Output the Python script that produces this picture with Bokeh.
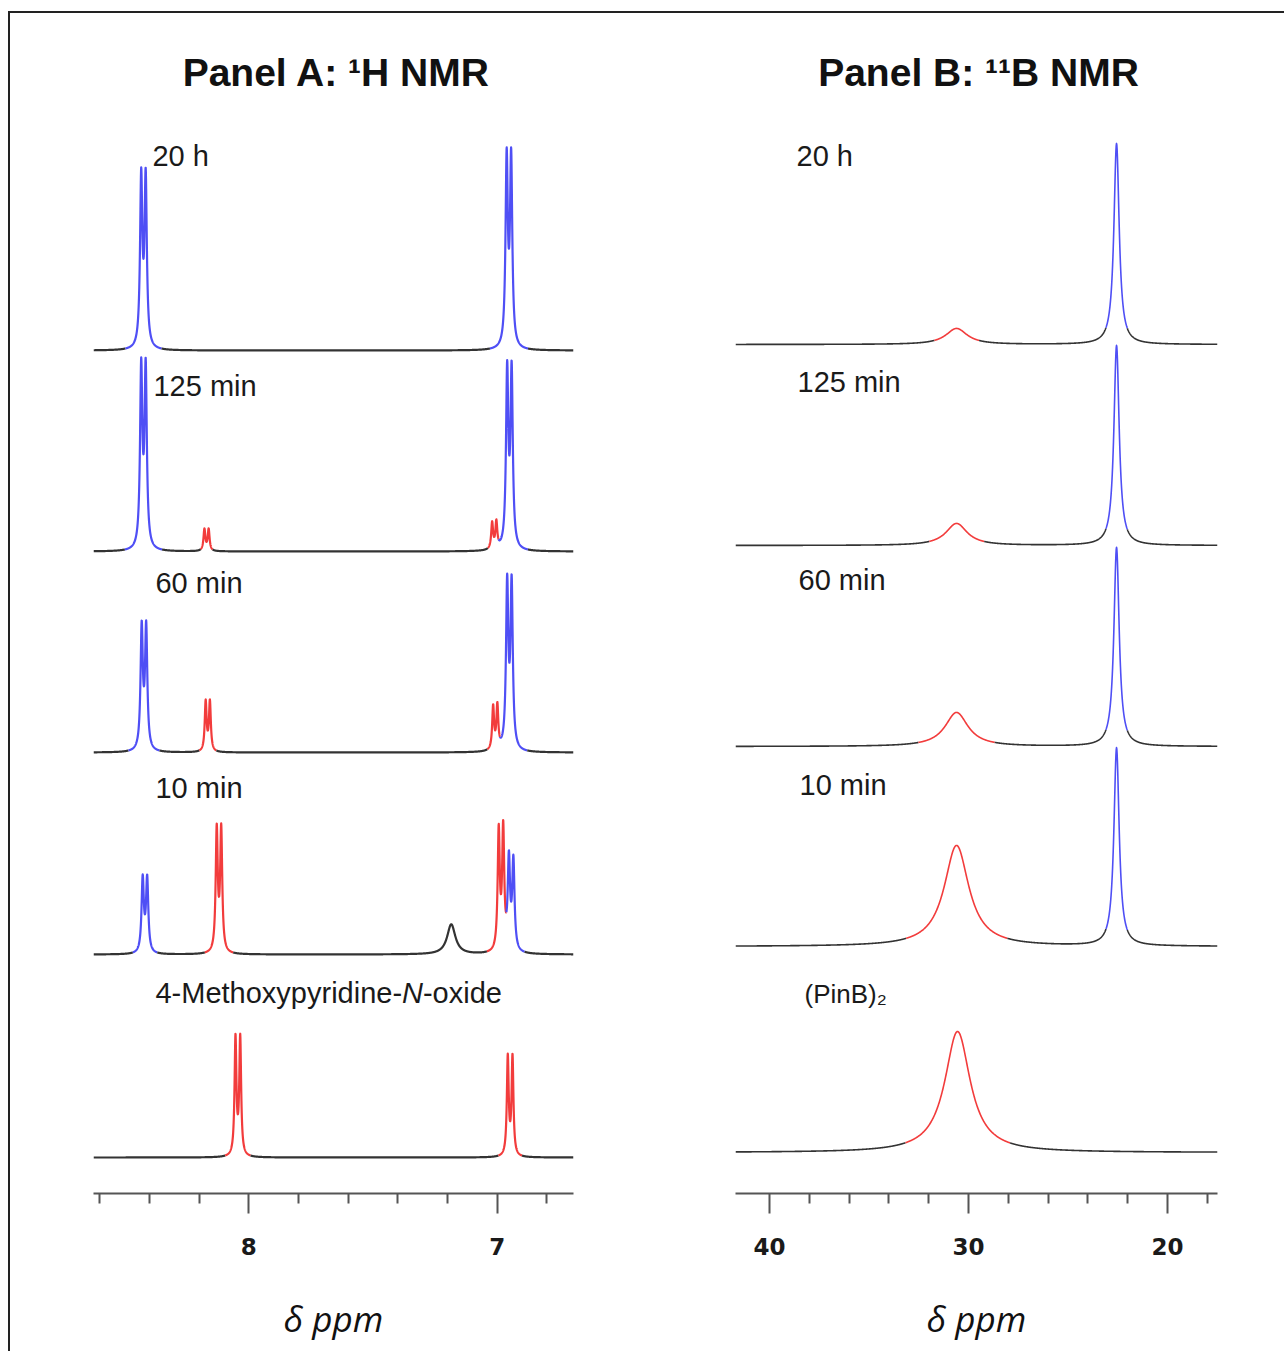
import numpy as np
from bokeh.plotting import figure
from bokeh.models import Range1d, LinearAxis, FixedTicker, ColumnDataSource, Row
from bokeh.core.properties import value
from bokeh.embed import file_html
from bokeh.resources import INLINE

# ------------------------------------------------------------------ data
# Panel A : 1H NMR  (trace 0 = top)
A_TRACES = ["20 h", "125 min", "60 min", "10 min", "4-Methoxypyridine-N-oxide"]
A_PEAK_TRACE = [0, 0, 1, 1, 1, 1, 2, 2, 2, 2, 3, 3, 3, 3, 3, 4, 4]
A_PEAK_PPM = [8.424, 6.953, 8.424, 8.170, 7.012, 6.951, 8.422, 8.165, 7.008,
              6.951, 8.418, 8.120, 7.185, 6.985, 6.944, 8.044, 6.948]
A_PEAK_HEIGHT = [183, 203, 194, 23, 28, 191, 132, 53, 46, 178, 80, 131, 30,
                 128, 97, 124, 104]
A_PEAK_FWHM = [0.011, 0.011, 0.011, 0.009, 0.009, 0.011, 0.011, 0.009, 0.009,
               0.011, 0.011, 0.010, 0.040, 0.010, 0.011, 0.009, 0.009]
A_PEAK_SPLIT = [0.018, 0.018, 0.018, 0.017, 0.017, 0.018, 0.018, 0.017, 0.017,
                0.018, 0.018, 0.018, 0.0, 0.018, 0.018, 0.019, 0.019]
A_PEAK_SPECIES = ["P", "P", "P", "S", "S", "P", "P", "S", "S", "P",
                  "P", "S", "O", "S", "P", "S", "S"]
A_MAJOR_TICKS = [7, 8]
A_MINOR_TICKS = [6.8, 7.2, 7.4, 7.6, 7.8, 8.2, 8.4, 8.6]

# Panel B : 11B NMR
B_TRACES = ["20 h", "125 min", "60 min", "10 min", "(PinB)\u2082"]
B_PEAK_TRACE = [0, 0, 1, 1, 2, 2, 3, 3, 4]
B_PEAK_PPM = [30.6, 22.56, 30.6, 22.56, 30.6, 22.56, 30.6, 22.56, 30.55]
B_PEAK_HEIGHT = [16, 201, 22, 200, 34, 199, 101, 198, 121]
B_PEAK_FWHM = [1.3, 0.32, 1.3, 0.32, 1.4, 0.32, 1.5, 0.32, 1.55]
B_PEAK_SPECIES = ["S", "P", "S", "P", "S", "P", "S", "P", "S"]
B_MAJOR_TICKS = [20, 30, 40]
B_MINOR_TICKS = [18, 22, 24, 26, 28, 32, 34, 36, 38]

TITLE_A = "Panel A: \u00b9H NMR"
TITLE_B = "Panel B: \u00b9\u00b9B NMR"
AXIS_LABEL = "\u03b4 ppm"

# ------------------------------------------------------------------ layout / style
BLUE = "#4f4ff5"
RED = "#f23c3c"
BLACK = "#333333"
COLORS = {"P": BLUE, "S": RED, "O": BLACK}
LABEL_FONT = "Liberation Sans"
FIG_H = 1338
FRAME_H = 1180
BOTTOM = FIG_H - FRAME_H

A_X = (8.625, 6.693)
B_X = (41.709, 17.487)
A_Y = (5, 5 + FRAME_H)      # data y: page_y = 1198 - y
B_Y = (0, FRAME_H)          # data y: page_y = 1193 - y
A_BASES = [848, 647, 446, 244, 41]
B_BASES = [849, 648, 447, 247, 41]
# label positions in page pixels (converted to data units below)
A_LABEL_PX = [(152, 155), (153, 385), (155, 582), (155, 787), (155, 992)]
B_LABEL_PX = [(795, 155), (796, 381), (797, 579), (798, 784), (803, 993)]


def a_px_to_ppm(px):
    return 8.0 + (248.3 - px) / 248.4


def b_px_to_ppm(px):
    return 30.0 + (967.0 - px) / 19.9


def lorentz(x, c, h, fwhm):
    g = fwhm / 2.0
    return h / (1.0 + ((x - c) / g) ** 2)


def profile(x, c, h, fwhm, split):
    if split > 0:
        g = fwhm / 2.0
        overlap = 1.0 / (1.0 + (split / g) ** 2)
        hl = h / (1.0 + overlap)
        return lorentz(x, c - split / 2, hl, fwhm) + lorentz(x, c + split / 2, hl, fwhm)
    return lorentz(x, c, h, fwhm)


def segments(x, base, comps, species, thresholds):
    stack = np.vstack(comps)
    total = base + stack.sum(axis=0)
    dom = stack.argmax(axis=0)
    domval = stack.max(axis=0)
    thr = np.array(thresholds)[dom]
    labels = np.where(domval > thr, np.array(species)[dom], "O")
    xs, ys, cs = [], [], []
    start = 0
    n = len(x)
    for i in range(1, n + 1):
        if i == n or labels[i] != labels[start]:
            end = min(i + 1, n)
            xs.append(list(x[start:end]))
            ys.append(list(total[start:end]))
            cs.append(COLORS[labels[start]])
            start = i
    return xs, ys, cs


def make_fig(width, frame_left, frame_right, xr, yr):
    p = figure(width=width, height=FIG_H, x_range=Range1d(*xr),
               y_range=Range1d(*yr), x_axis_type=None, y_axis_type=None,
               toolbar_location=None, output_backend="svg",
               min_border_left=frame_left, min_border_right=frame_right,
               min_border_top=0, min_border_bottom=BOTTOM,
               outline_line_color=None, background_fill_color="white",
               border_fill_color="white")
    return p


def add_axis(p, major, minor, label_standoff):
    ax = LinearAxis(ticker=FixedTicker(ticks=major, minor_ticks=minor),
                    axis_label=AXIS_LABEL,
                    axis_label_text_font="Open Sans",
                    axis_label_text_font_style="italic",
                    axis_label_text_font_size="35px",
                    axis_label_text_line_height=1.0,
                    axis_label_text_color="#111111",
                    axis_label_standoff=label_standoff,
                    major_label_text_font="DejaVu Sans",
                    major_label_text_font_style="bold",
                    major_label_text_font_size="23px",
                    major_label_text_color="#1a1a1a",
                    major_label_standoff=24,
                    major_tick_out=20, major_tick_in=0,
                    minor_tick_out=10, minor_tick_in=0,
                    axis_line_color="#555555", axis_line_width=2,
                    major_tick_line_color="#555555", major_tick_line_width=2,
                    minor_tick_line_color="#555555", minor_tick_line_width=2)
    p.add_layout(ax, "below")


# ------------------------------------------------------------------ panel A
pA = make_fig(650, 83, 87, A_X, A_Y)
xa = np.linspace(A_X[0], A_X[1], 3200)
for t, name in enumerate(A_TRACES):
    idx = [i for i, tr in enumerate(A_PEAK_TRACE) if tr == t]
    comps = [profile(xa, A_PEAK_PPM[i], A_PEAK_HEIGHT[i], A_PEAK_FWHM[i], A_PEAK_SPLIT[i]) for i in idx]
    sp = [A_PEAK_SPECIES[i] for i in idx]
    thr = [2.0 for i in idx]
    xs, ys, cs = segments(xa, A_BASES[t], comps, sp, thr)
    pA.multi_line(xs="xs", ys="ys", line_color="c", line_width=2.2, line_join="round",
                  source=ColumnDataSource(dict(xs=xs, ys=ys, c=cs)))

lab_x = [a_px_to_ppm(px) for px, _ in A_LABEL_PX[:4]]
lab_y = [1198 - py for _, py in A_LABEL_PX[:4]]
pA.text(x=lab_x, y=lab_y, text=A_TRACES[:4], text_font=value(LABEL_FONT),
        text_font_size="29px", text_baseline="middle", text_align="left",
        text_color="#1a1a1a")
# compound label with italic N
mx, my = A_LABEL_PX[4]
parts = ["4-Methoxypyridine-", "N", "-oxide"]
offs = [0, 246.6, 267.5]
styles = ["normal", "italic", "normal"]
for part, off, st in zip(parts, offs, styles):
    pA.text(x=[a_px_to_ppm(mx)], y=[1198 - my], text=[part], x_offset=off,
            text_font=value(LABEL_FONT), text_font_style=st,
            text_font_size="29px", text_baseline="middle", text_align="left",
            text_color="#1a1a1a")
pA.text(x=[a_px_to_ppm(336)], y=[1198 - 72], text=[TITLE_A],
        text_font=value(LABEL_FONT), text_font_style="bold",
        text_font_size="39px", text_baseline="middle", text_align="center",
        text_color="#111111")
add_axis(pA, A_MAJOR_TICKS, A_MINOR_TICKS, 37)

# ------------------------------------------------------------------ panel B
pB = make_fig(624, 75, 67, B_X, B_Y)
xb = np.linspace(B_X[0], B_X[1], 1600)
for t, name in enumerate(B_TRACES):
    idx = [i for i, tr in enumerate(B_PEAK_TRACE) if tr == t]
    comps = [profile(xb, B_PEAK_PPM[i], B_PEAK_HEIGHT[i], B_PEAK_FWHM[i], 0.0) for i in idx]
    sp = [B_PEAK_SPECIES[i] for i in idx]
    thr = [max(0.08 * B_PEAK_HEIGHT[i], 4.0) for i in idx]
    xs, ys, cs = segments(xb, B_BASES[t], comps, sp, thr)
    pB.multi_line(xs="xs", ys="ys", line_color="c", line_width=1.6, line_join="round",
                  source=ColumnDataSource(dict(xs=xs, ys=ys, c=cs)))

lbx = [b_px_to_ppm(px) for px, _ in B_LABEL_PX[:4]]
lby = [1193 - py for _, py in B_LABEL_PX[:4]]
pB.text(x=lbx, y=lby, text=B_TRACES[:4], text_font=value(LABEL_FONT),
        text_font_size="29px", text_baseline="middle", text_align="left",
        text_color="#1a1a1a")
px4, py4 = B_LABEL_PX[4]
pB.text(x=[b_px_to_ppm(px4)], y=[1193 - py4], text=[B_TRACES[4]],
        text_font=value(LABEL_FONT), text_font_size="26px",
        text_baseline="middle", text_align="left", text_color="#1a1a1a")
pB.text(x=[b_px_to_ppm(977)], y=[1193 - 72], text=[TITLE_B],
        text_font=value(LABEL_FONT), text_font_style="bold",
        text_font_size="39px", text_baseline="middle", text_align="center",
        text_color="#111111")
add_axis(pB, B_MAJOR_TICKS, B_MINOR_TICKS, 37)

layout = Row(children=[pA, pB], spacing=0,
             styles={"border-top": "2px solid #222222",
                     "border-left": "2px solid #222222",
                     "margin-top": "11px",
                     "margin-left": "8px"})

open("out.html", "w").write(file_html(layout, INLINE))
